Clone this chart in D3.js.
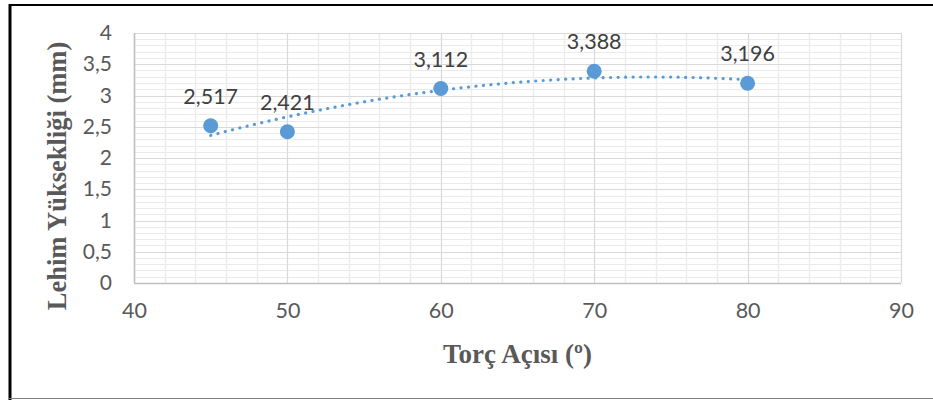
<!DOCTYPE html>
<html><head><meta charset="utf-8">
<script src="https://cdn.jsdelivr.net/npm/d3@7"></script>
<style>body{margin:0;background:#fff}svg{display:block}</style>
</head><body>
<script>
const angles = [45, 50, 60, 70, 80];
const heights = [2.517, 2.421, 3.112, 3.388, 3.196];
const labels = ["2,517", "2,421", "3,112", "3,388", "3,196"];
const xTicks = [40, 50, 60, 70, 80, 90];
const yTicks = [0, 0.5, 1, 1.5, 2, 2.5, 3, 3.5, 4];
const yTickLabels = ["0", "0,5", "1", "1,5", "2", "2,5", "3", "3,5", "4"];
const xTitle = "Torç Açısı (º)";
const yTitle = "Lehim Yüksekliği (mm)";

const W = 933, H = 400;
const svg = d3.select("body").append("svg").attr("width", W).attr("height", H);
const x = d3.scaleLinear().domain([40, 90]).range([134, 901]);
const y = d3.scaleLinear().domain([0, 4]).range([283, 33]);

// frame
svg.append("line").attr("x1", 10).attr("x2", 10).attr("y1", 4).attr("y2", 400).attr("stroke", "#000").attr("stroke-width", 3);
svg.append("line").attr("x1", 9).attr("x2", 933).attr("y1", 5).attr("y2", 5).attr("stroke", "#000").attr("stroke-width", 2);
svg.append("line").attr("x1", 9).attr("x2", 933).attr("y1", 398.5).attr("y2", 398.5).attr("stroke", "#7f7f7f").attr("stroke-width", 1);

const g = svg.append("g");
// minor gridlines
d3.range(0, 4.0001, 0.1).forEach(v => {
  g.append("line").attr("x1", x(40)).attr("x2", x(90)).attr("y1", Math.round(y(v)) + 0.5).attr("y2", Math.round(y(v)) + 0.5)
    .attr("stroke", "#eaeaea").attr("stroke-width", 1);
});
d3.range(40, 90.001, 2).forEach(v => {
  g.append("line").attr("y1", y(0)).attr("y2", y(4)).attr("x1", Math.round(x(v)) + 0.5).attr("x2", Math.round(x(v)) + 0.5)
    .attr("stroke", "#ececec").attr("stroke-width", 1.5);
});
// major gridlines
yTicks.forEach(v => {
  g.append("line").attr("x1", x(40)).attr("x2", x(90)).attr("y1", Math.round(y(v)) + 0.5).attr("y2", Math.round(y(v)) + 0.5)
    .attr("stroke", "#d9d9d9").attr("stroke-width", 1);
});
xTicks.forEach(v => {
  g.append("line").attr("y1", y(0)).attr("y2", y(4)).attr("x1", Math.round(x(v)) + 0.5).attr("x2", Math.round(x(v)) + 0.5)
    .attr("stroke", "#d9d9d9").attr("stroke-width", 1);
});
// axis lines
g.append("line").attr("x1", x(40)).attr("x2", x(90)).attr("y1", Math.round(y(0)) + 0.5).attr("y2", Math.round(y(0)) + 0.5).attr("stroke", "#bfbfbf").attr("stroke-width", 1.5);
g.append("line").attr("x1", Math.round(x(40)) + 0.5).attr("x2", Math.round(x(40)) + 0.5).attr("y1", y(0)).attr("y2", y(4)).attr("stroke", "#bfbfbf").attr("stroke-width", 1.5);

// tick labels
const tickFont = "Lato, 'Open Sans', sans-serif";
const yAxis = d3.axisLeft(y).tickValues(yTicks).tickFormat((d, i) => yTickLabels[i]).tickSize(0).tickPadding(22);
const ya = svg.append("g").attr("transform", `translate(${x(40)},0)`).call(yAxis);
ya.select(".domain").remove();
ya.selectAll("text").attr("font-family", tickFont).attr("font-size", 21).attr("fill", "#595959");
const xAxis = d3.axisBottom(x).tickValues(xTicks).tickSize(0).tickPadding(20);
const xa = svg.append("g").attr("transform", `translate(0,${y(0)})`).call(xAxis);
xa.select(".domain").remove();
xa.selectAll("text").attr("font-family", tickFont).attr("font-size", 21.5).attr("fill", "#595959");

// quadratic least-squares trendline from data
function polyfit2(xs, ys) {
  const n = xs.length;
  let S = [0,0,0,0,0], T = [0,0,0];
  for (let i = 0; i < n; i++) {
    for (let k = 0; k <= 4; k++) S[k] += Math.pow(xs[i], k);
    for (let k = 0; k <= 2; k++) T[k] += ys[i] * Math.pow(xs[i], k);
  }
  const A = [[S[0],S[1],S[2],T[0]],[S[1],S[2],S[3],T[1]],[S[2],S[3],S[4],T[2]]];
  for (let c = 0; c < 3; c++) {
    for (let r = c + 1; r < 3; r++) {
      const f = A[r][c] / A[c][c];
      for (let k = c; k < 4; k++) A[r][k] -= f * A[c][k];
    }
  }
  const coef = [0,0,0];
  for (let r = 2; r >= 0; r--) {
    let s = A[r][3];
    for (let k = r + 1; k < 3; k++) s -= A[r][k] * coef[k];
    coef[r] = s / A[r][r];
  }
  return coef;
}
const cf = polyfit2(angles, heights);
const trendX = d3.range(angles[0], angles[angles.length - 1] + 0.001, 0.25);
const line = d3.line().x(d => x(d)).y(d => y(cf[0] + cf[1] * d + cf[2] * d * d));
svg.append("path").datum(trendX).attr("d", line).attr("fill", "none")
  .attr("stroke", "#5b9bd5").attr("stroke-width", 3.2).attr("stroke-linecap", "round").attr("stroke-dasharray", "0.1 7.4");

// points
svg.selectAll("circle.pt").data(angles).enter().append("circle")
  .attr("cx", d => x(d)).attr("cy", (d, i) => y(heights[i])).attr("r", 7.5).attr("fill", "#5b9bd5");

// data labels
svg.selectAll("text.lbl").data(angles).enter().append("text")
  .attr("x", d => x(d)).attr("y", (d, i) => y(heights[i]) - 22)
  .attr("text-anchor", "middle").attr("font-family", tickFont).attr("font-size", 21.5).attr("fill", "#404040")
  .text((d, i) => labels[i]);

// axis titles
const titleFont = "'Liberation Serif', 'Times New Roman', serif";
svg.append("text").attr("x", x(65)).attr("y", 363).attr("text-anchor", "middle")
  .attr("font-family", titleFont).attr("font-weight", "bold").attr("font-size", 27).attr("fill", "#595959").text(xTitle);
svg.append("text").attr("transform", `translate(66,${y(2) + 18}) rotate(-90)`).attr("text-anchor", "middle")
  .attr("font-family", titleFont).attr("font-weight", "bold").attr("font-size", 26.5).attr("fill", "#595959").text(yTitle);
</script>
</body></html>
